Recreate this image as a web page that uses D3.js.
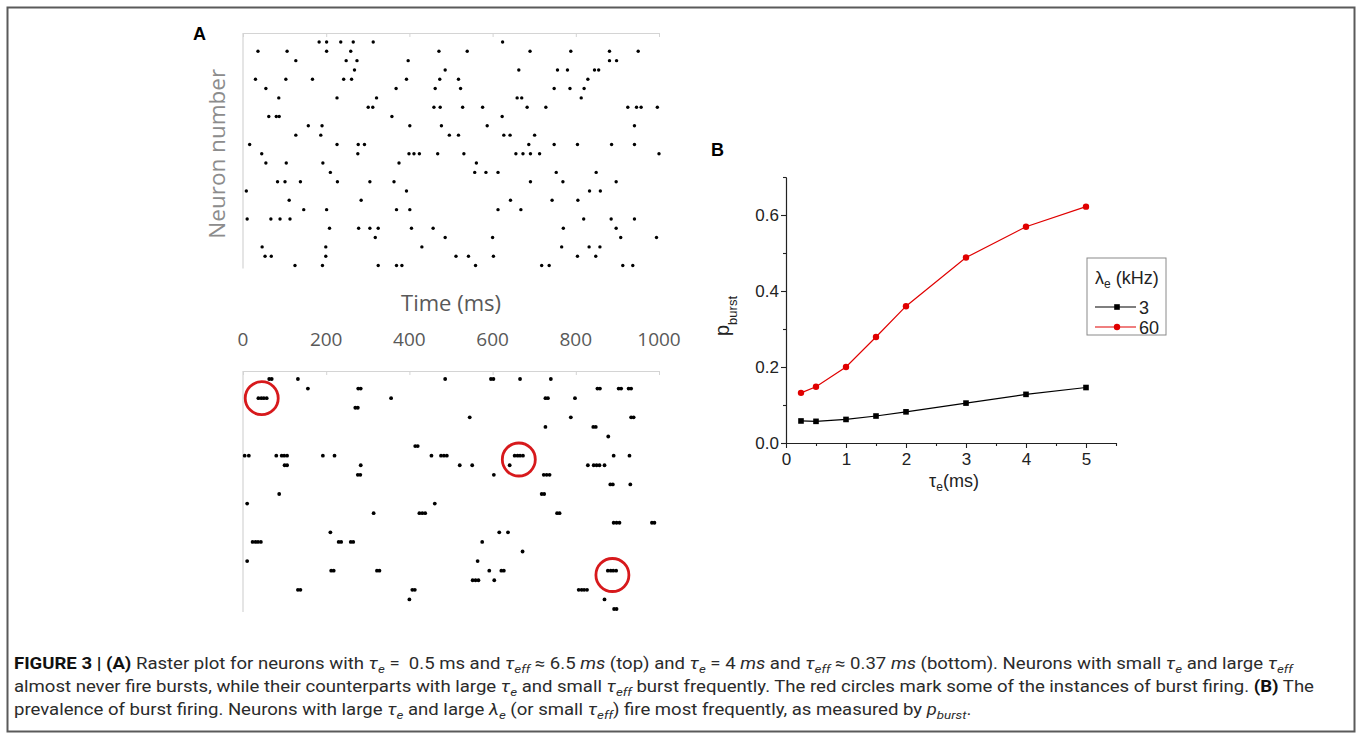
<!DOCTYPE html>
<html>
<head>
<meta charset="utf-8">
<script src="https://cdn.jsdelivr.net/npm/d3@7"></script>
<style>
  html, body { margin: 0; padding: 0; background: #fff; }
  svg { display: block; }
</style>
</head>
<body>
<div id="chart"></div>
<script>
// ── Data: panel A top raster (τe = 0.5 ms), spike times (ms) per neuron row ──
const topSpikes = [
  [183, 201, 235, 265, 313, 624],
  [36, 106, 201, 259, 471, 539, 690, 788, 881, 950],
  [127, 248, 274, 397, 881, 898],
  [268, 486, 663, 756, 780, 845, 855],
  [30, 103, 167, 242, 261, 393, 473, 518, 829],
  [55, 368, 462, 523, 748, 786, 820],
  [86, 226, 321, 659, 670, 813],
  [301, 312, 459, 474, 528, 576, 683, 728, 925, 946, 957, 996],
  [62, 80, 87, 358, 623],
  [157, 190, 401, 477, 587, 941],
  [127, 187, 496, 518, 627, 642, 701],
  [16, 226, 277, 292, 687, 748, 804, 886, 941],
  [45, 276, 399, 411, 424, 468, 531, 656, 673, 691, 713, 1000],
  [55, 104, 192, 375, 561],
  [210, 557, 584, 613, 753, 849],
  [83, 101, 138, 227, 305, 363, 691, 769, 897],
  [8, 393, 833, 859],
  [111, 284, 643, 743, 805],
  [146, 201, 369, 401, 613, 668],
  [10, 67, 89, 113, 819, 885, 941],
  [208, 278, 305, 325, 405, 457, 770, 897],
  [318, 486, 600, 908, 994],
  [46, 199, 430, 766, 832, 858],
  [53, 68, 199, 512, 542, 602, 804, 848],
  [125, 191, 325, 369, 382, 559, 718, 736, 913, 937],
];

// ── Data: panel A bottom raster (τe = 4 ms), bursts show as short dashes ──
const bottomSpikes = [
  [63, 69, 132, 486, 596, 602, 666, 740],
  [156, 277, 283, 852, 858, 903, 909, 927, 933],
  [37, 44, 50, 57, 356, 727, 733, 798],
  [270, 276],
  [545, 788, 933, 939],
  [727, 842, 848],
  [878],
  [414, 420],
  [4, 14, 80, 93, 99, 106, 192, 220, 453, 476, 483, 490, 653, 660, 666, 673, 891, 929],
  [100, 106, 283, 521, 551, 641, 829, 843, 850, 857, 869],
  [276, 282, 603, 723, 730, 737],
  [883, 889, 931],
  [87, 718, 724],
  [10, 461],
  [314, 424, 431, 438, 755, 761],
  [891, 898, 905, 983, 989],
  [210, 616, 637],
  [23, 30, 36, 43, 230, 236, 259, 265, 575],
  [672],
  [10, 564],
  [212, 218, 322, 328, 592, 621, 627, 877, 884, 890, 897],
  [552, 559, 566, 604],
  [132, 138, 407, 413, 807, 814, 820, 827],
  [400, 869],
  [892, 898],
];

// burst instances marked with red circles (row, time)
const burstRows = [2.0, 8.4, 20.45];
const burstTimes = [45, 663, 888];

const rasterTicks = [0, 200, 400, 600, 800, 1000];

// ── Data: panel B ─────────────────────────────────────────────────────────
const tauE = [0.25, 0.5, 1, 1.5, 2, 3, 4, 5];
const pBurst3 = [0.058, 0.057, 0.062, 0.071, 0.082, 0.105, 0.128, 0.146];
const pBurst60 = [0.132, 0.148, 0.2, 0.279, 0.36, 0.488, 0.569, 0.622];
const lambdaLabels = ["3", "60"];
const xMajor = [0, 1, 2, 3, 4, 5];
const xMinor = [0.5, 1.5, 2.5, 3.5, 4.5, 5.5];
const yMajor = [0, 0.2, 0.4, 0.6];
const yMinor = [0.1, 0.3, 0.5, 0.7];

// ── Caption lines: [text, style]  n normal, b bold, i italic, s italic sub ──
const captionLines = [
  [["FIGURE 3 | (A)", "b"], [" Raster plot for neurons with ", "n"], ["τ", "i"], ["e", "s"],
   [" =  0.5 ms and ", "n"], ["τ", "i"], ["eff", "s"], [" ≈ 6.5 ", "n"], ["ms", "i"],
   [" (top) and ", "n"], ["τ", "i"], ["e", "s"], [" = 4 ", "n"], ["ms", "i"], [" and ", "n"],
   ["τ", "i"], ["eff", "s"], [" ≈ 0.37 ", "n"], ["ms", "i"],
   [" (bottom). Neurons with small ", "n"], ["τ", "i"], ["e", "s"], [" and large ", "n"],
   ["τ", "i"], ["eff", "s"]],
  [["almost never fire bursts, while their counterparts with large ", "n"], ["τ", "i"], ["e", "s"],
   [" and small ", "n"], ["τ", "i"], ["eff", "s"],
   [" burst frequently. The red circles mark some of the instances of burst firing. ", "n"],
   ["(B)", "b"], [" The", "n"]],
  [["prevalence of burst firing. Neurons with large ", "n"], ["τ", "i"], ["e", "s"],
   [" and large ", "n"], ["λ", "i"], ["e", "s"], [" (or small ", "n"], ["τ", "i"], ["eff", "s"],
   [") fire most frequently, as measured by ", "n"], ["p", "i"], ["burst", "s"], [".", "n"]],
];

// ── SVG ────────────────────────────────────────────────────────────────────
const W = 1358, H = 734;
const svg = d3.select("#chart").append("svg")
  .attr("width", W).attr("height", H)
  .attr("viewBox", `0 0 ${W} ${H}`);

// outer frame
svg.append("rect")
  .attr("x", 7.5).attr("y", 7.5)
  .attr("width", 1347).attr("height", 724)
  .attr("fill", "none")
  .attr("stroke", "#5a5a5a")
  .attr("stroke-width", 2);

// ── Panel A ────────────────────────────────────────────────────────────────
const fontA = "'Open Sans', 'Lato', sans-serif";
const xR = d3.scaleLinear().domain([0, 1000]).range([243, 659]);
const yTop = d3.scaleLinear().domain([0, 24]).range([42, 265.5]);
const yBot = d3.scaleLinear().domain([0, 24]).range([379, 609]);

function rasterFrame(axisY, yScale) {
  const g = svg.append("g");
  const ax = g.append("g")
    .attr("transform", `translate(0,${axisY})`)
    .call(d3.axisBottom(xR).tickValues(rasterTicks).tickSize(4).tickFormat(""));
  ax.selectAll("path, line").attr("stroke", "#d4d4d4").attr("stroke-width", 1);
  g.append("line")
    .attr("x1", xR(0)).attr("x2", xR(0))
    .attr("y1", axisY).attr("y2", yScale(24) + 3)
    .attr("stroke", "#d4d4d4").attr("stroke-width", 1.2);
  return g;
}

function drawRaster(g, rows, yScale, r) {
  const pts = rows.flatMap((ts, i) => ts.map((t) => ({ row: i, t })));
  g.selectAll("circle.spike")
    .data(pts)
    .join("circle")
    .attr("class", "spike")
    .attr("cx", (d) => xR(d.t))
    .attr("cy", (d) => yScale(d.row))
    .attr("r", r)
    .attr("fill", "#000");
}

const gTop = rasterFrame(33, yTop);
drawRaster(gTop, topSpikes, yTop, 1.7);
const gBot = rasterFrame(371, yBot);
drawRaster(gBot, bottomSpikes, yBot, 1.9);

// red circles around bursts
gBot.selectAll("circle.mark")
  .data(burstRows.map((r, i) => ({ row: r, t: burstTimes[i] })))
  .join("circle")
  .attr("class", "mark")
  .attr("cx", (d) => xR(d.t))
  .attr("cy", (d) => yBot(d.row))
  .attr("r", 16.5)
  .attr("fill", "none")
  .attr("stroke", "#d7191c")
  .attr("stroke-width", 2.8);

// tick labels and axis titles (between the two rasters)
svg.selectAll("text.rtick")
  .data(rasterTicks)
  .join("text")
  .attr("class", "rtick")
  .attr("x", (d) => xR(d))
  .attr("y", 346)
  .attr("text-anchor", "middle")
  .style("font-family", fontA)
  .style("font-size", "19px")
  .attr("fill", "#595959")
  .text((d) => d);

svg.append("text")
  .attr("x", xR(500)).attr("y", 311)
  .attr("text-anchor", "middle")
  .style("font-family", fontA)
  .style("font-size", "22px")
  .attr("fill", "#595959")
  .text("Time (ms)");

svg.append("text")
  .attr("transform", `translate(225,${(yTop(0) + yTop(24)) / 2}) rotate(-90)`)
  .attr("text-anchor", "middle")
  .style("font-family", fontA)
  .style("font-size", "22.5px")
  .attr("fill", "#8c8c8c")
  .text("Neuron number");

// panel letters
const fontB = "'Liberation Sans', Arial, sans-serif";
svg.append("text").attr("x", 193).attr("y", 40)
  .style("font-family", fontB).style("font-size", "18px").style("font-weight", "700")
  .text("A");
svg.append("text").attr("x", 711).attr("y", 156)
  .style("font-family", fontB).style("font-size", "18px").style("font-weight", "700")
  .text("B");

// ── Panel B ────────────────────────────────────────────────────────────────
const xB = d3.scaleLinear().domain([0, 5.5]).range([786, 1116]);
const yB = d3.scaleLinear().domain([0, 0.7]).range([443, 177]);
const gB = svg.append("g");

function styleAxis(sel) {
  sel.selectAll("path, line").attr("stroke", "#222").attr("stroke-width", 1.1);
  sel.selectAll("text")
    .attr("fill", "#222")
    .style("font-family", fontB)
    .style("font-size", "17px");
}

gB.append("g").attr("transform", `translate(0,${yB(0)})`)
  .call(d3.axisBottom(xB).tickValues(xMinor).tickSize(3).tickSizeOuter(0).tickFormat(""))
  .call(styleAxis);
gB.append("g").attr("transform", `translate(0,${yB(0)})`)
  .call(d3.axisBottom(xB).tickValues(xMajor).tickSize(5).tickSizeOuter(0).tickPadding(5)
    .tickFormat(d3.format("d")))
  .call(styleAxis);
gB.append("g").attr("transform", `translate(${xB(0)},0)`)
  .call(d3.axisLeft(yB).tickValues(yMinor).tickSize(3).tickSizeOuter(0).tickFormat(""))
  .call(styleAxis);
gB.append("g").attr("transform", `translate(${xB(0)},0)`)
  .call(d3.axisLeft(yB).tickValues(yMajor).tickSize(5).tickSizeOuter(0).tickPadding(2)
    .tickFormat(d3.format(".1f")))
  .call(styleAxis);

const series = [
  { key: "3", vals: pBurst3, color: "#000", shape: "square" },
  { key: "60", vals: pBurst60, color: "#e00000", shape: "circle" },
];

const line = d3.line().x((d) => xB(d.x)).y((d) => yB(d.y));

series.forEach((s) => {
  const pts = tauE.map((x, i) => ({ x, y: s.vals[i] }));
  gB.append("path")
    .datum(pts)
    .attr("d", line)
    .attr("fill", "none")
    .attr("stroke", s.color)
    .attr("stroke-width", 1.2);
  if (s.shape === "square") {
    gB.selectAll(null).data(pts).join("rect")
      .attr("x", (d) => xB(d.x) - 2.8)
      .attr("y", (d) => yB(d.y) - 2.8)
      .attr("width", 5.6).attr("height", 5.6)
      .attr("fill", s.color);
  } else {
    gB.selectAll(null).data(pts).join("circle")
      .attr("cx", (d) => xB(d.x))
      .attr("cy", (d) => yB(d.y))
      .attr("r", 3.2)
      .attr("fill", s.color);
  }
});

// axis titles
const xt = gB.append("text")
  .attr("x", (xB(0) + xB(5.5)) / 2 + 3).attr("y", 487)
  .attr("text-anchor", "middle")
  .style("font-family", fontB).style("font-size", "18px").attr("fill", "#222");
xt.append("tspan").text("τ");
xt.append("tspan").attr("dy", 4).style("font-size", "12px").text("e");
xt.append("tspan").attr("dy", -4).text("(ms)");

const yt = gB.append("text")
  .attr("transform", `translate(729,316) rotate(-90)`)
  .attr("text-anchor", "middle")
  .style("font-family", fontB).attr("fill", "#222");
yt.append("tspan").style("font-size", "20px").text("p");
yt.append("tspan").attr("dy", 8).style("font-size", "13px").text("burst");

// legend
const lg = gB.append("g").attr("transform", "translate(1087,258)");
lg.append("rect")
  .attr("width", 79).attr("height", 77)
  .attr("fill", "#fff").attr("stroke", "#8a8a8a").attr("stroke-width", 1);
const lt = lg.append("text").attr("x", 8).attr("y", 26)
  .style("font-family", fontB).style("font-size", "18px").attr("fill", "#222");
lt.append("tspan").text("λ");
lt.append("tspan").attr("dy", 4).style("font-size", "12px").text("e");
lt.append("tspan").attr("dy", -4).text(" (kHz)");

series.forEach((s, i) => {
  const yy = 49 + i * 20;
  lg.append("line")
    .attr("x1", 8).attr("x2", 49).attr("y1", yy).attr("y2", yy)
    .attr("stroke", s.color).attr("stroke-width", 1.2);
  if (s.shape === "square") {
    lg.append("rect").attr("x", 27.2).attr("y", yy - 2.8)
      .attr("width", 5.6).attr("height", 5.6).attr("fill", s.color);
  } else {
    lg.append("circle").attr("cx", 30).attr("cy", yy).attr("r", 3.2).attr("fill", s.color);
  }
  lg.append("text")
    .attr("x", 52).attr("y", yy + 6.5)
    .style("font-family", fontB).style("font-size", "18px").attr("fill", "#222")
    .text(lambdaLabels[i]);
});

// ── Caption ────────────────────────────────────────────────────────────────
const capFont = "'Roboto', 'Liberation Sans', sans-serif";
const capBase = [669, 692, 715];

const capGroups = captionLines.map((segs, li) => {
  const g = svg.append("g").attr("transform", `translate(14,${capBase[li]})`);
  const t = g.append("text")
    .attr("x", 0).attr("y", 0)
    .style("font-family", capFont)
    .style("font-size", "16px")
    .style("white-space", "pre")
    .attr("fill", "#2b2b2b");
  let shifted = false;
  segs.forEach(([txt, st]) => {
    const ts = t.append("tspan").text(txt);
    if (st === "b") ts.style("font-weight", "700").attr("fill", "#111");
    if (st === "i" || st === "s") ts.style("font-style", "italic");
    if (st === "s") {
      ts.style("font-size", "11.5px");
      if (!shifted) { ts.attr("dy", 4); shifted = true; }
    } else if (shifted) {
      ts.attr("dy", -4); shifted = false;
    }
  });
  return { g, w: t.node().getBBox().width, y: capBase[li] };
});

// one common horizontal squeeze so the two full lines span the block width
const sx = (1302 + 1280) / (capGroups[0].w + capGroups[1].w);
capGroups.forEach((c) => c.g.attr("transform", `translate(14,${c.y}) scale(${sx},1)`));
</script>
</body>
</html>
